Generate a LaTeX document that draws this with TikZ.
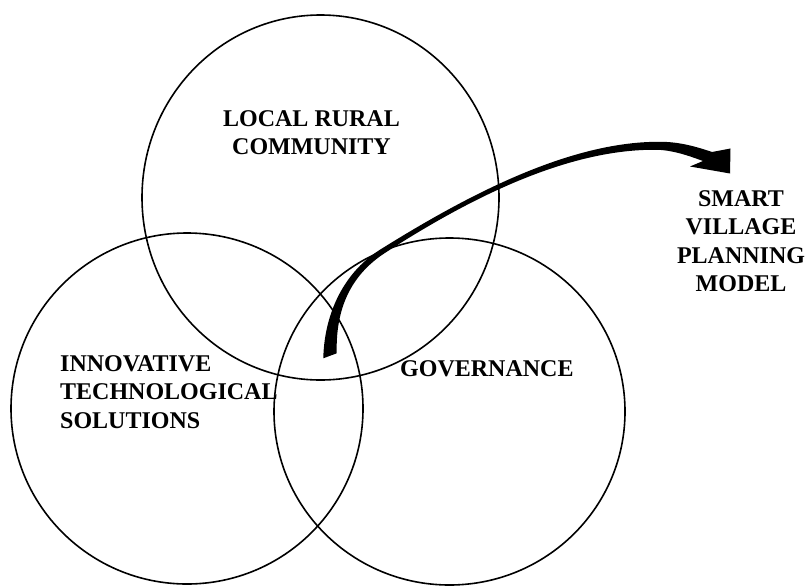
\documentclass[tikz,border=0pt]{standalone}
\usepackage{fontspec}
\setmainfont{Liberation Serif}
\usetikzlibrary{shapes.geometric}

\begin{document}
\begin{tikzpicture}[x=1pt,y=-1pt,
  ring/.style={draw,ellipse,line width=1.6pt,inner sep=0pt},
  lbl/.style={inner sep=0pt,font=\fontsize{24}{28.5}\selectfont\bfseries}]
\useasboundingbox (0,0) rectangle (805,586);
\node[ring,minimum width=357pt,minimum height=365pt] (community) at (320.5,197.5) {};
\node[ring,minimum width=352pt,minimum height=351pt] (innovation) at (187,408.5) {};
\node[ring,minimum width=351pt,minimum height=347pt] (governance) at (449.5,411.5) {};
\node[lbl,anchor=north,align=center] (communitytext) at (311.5,110) {LOCAL RURAL\\COMMUNITY};
\node[lbl,anchor=north west,align=left] (innovationtext) at (60,355) {INNOVATIVE\\TECHNOLOGICAL\\SOLUTIONS};
\node[lbl,anchor=north west] (governancetext) at (400,360) {GOVERNANCE};
\node[lbl,anchor=north,align=center] (modeltext) at (741,190) {SMART\\VILLAGE\\PLANNING\\MODEL};
\coordinate (arrowstart) at (323.3,358.3);
\coordinate (arrowtip) at (730,173.5);
\fill (arrowstart) .. controls (324,321) and (338.9,274.8) .. (381.6,248.7)
  .. controls (466.4,195.9) and (568,142) .. (658,141.8)
  .. controls (675,141.6) and (690,144.5) .. (712,152)
  -- (730.5,148.5) -- (arrowtip) -- (690,166.5) -- (703,161)
  .. controls (692,157) and (675,150.5) .. (658,149.8)
  .. controls (568,148.2) and (468.4,198.9) .. (384.4,253.3)
  .. controls (342.7,280.8) and (336,321) .. (336.7,353.3) -- cycle;
\end{tikzpicture}
\end{document}
